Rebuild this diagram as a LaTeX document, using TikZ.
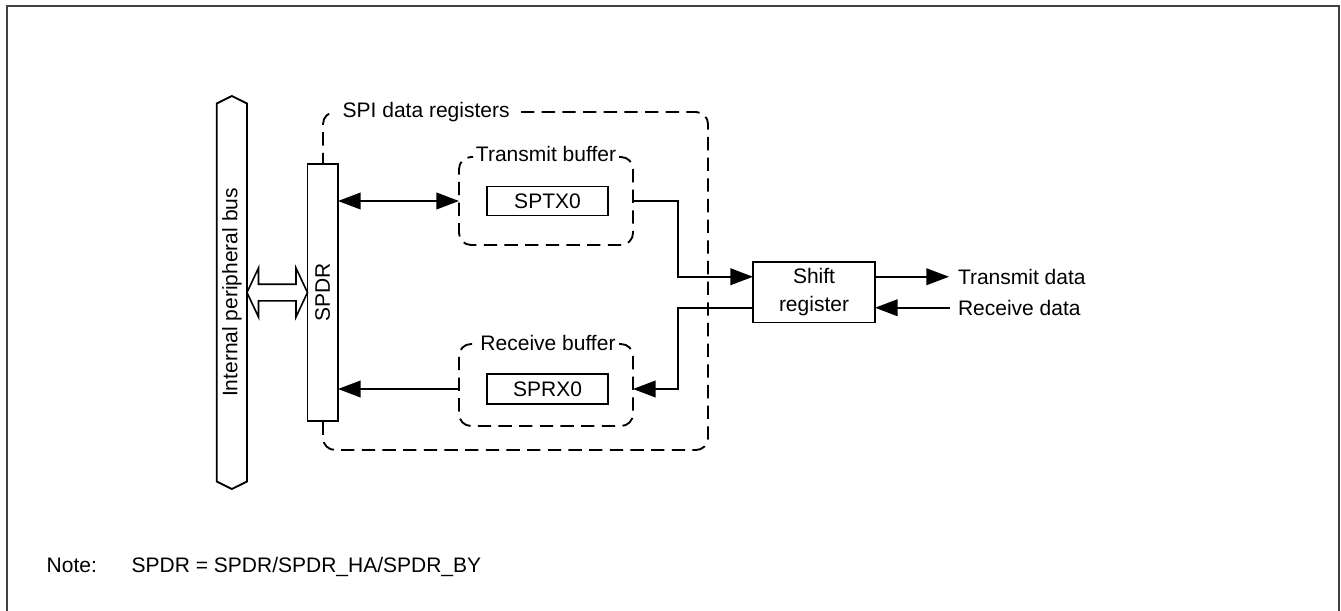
\documentclass[tikz,border=0pt]{standalone}
\usepackage{fontspec}
\setmainfont{Liberation Sans}
\usetikzlibrary{arrows.meta,calc}
\newcommand{\fsz}{\fontsize{15.75pt}{20.8pt}\selectfont}
\begin{document}
\begin{tikzpicture}[x=0.75pt,y=-0.75pt,
  every node/.style={font=\fsz, inner sep=0pt, outer sep=0pt},
  ln/.style={line width=1.4pt, black},
  box/.style={draw, line width=1.4pt, fill=white},
  ghost/.style={draw=none},
  dsh/.style={line width=1.4pt, dash pattern=on 10pt off 5.5pt, rounded corners=9pt},
  arr/.style={line width=1.4pt, -{Triangle[length=17pt,width=12.5pt]}},
  darr/.style={line width=1.4pt, {Triangle[length=17pt,width=12.5pt]}-{Triangle[length=17pt,width=12.5pt]}},
  lbl/.style={anchor=base west}
]
\useasboundingbox (0,0) rectangle (1341,610);
% frame
\draw[line width=1.5pt, black!75] (6.5,612) -- (6.5,6.5) -- (1338.5,6.5) -- (1338.5,612);

% outer dashed region
\node[ghost, minimum width=288.75pt, minimum height=253.5pt] (ob) at (515.5,281) {};
\draw[ln, dsh] ($(ob.north west)+(198,0)$) -- (ob.north east) -- (ob.south east) -- (ob.south west) -- (ob.north west) -- ($(ob.north west)+(13,0)$);
\node[lbl] (obl) at ($(ob.north west)+(19.7,5.5)$) {SPI data registers};

% bus
\node[ghost, minimum width=22.7pt, minimum height=294.75pt] (bus) at (231.85,292.5) {};
\draw[ln] (bus.north) -- ($(bus.north east)+(0,7.5)$) -- ($(bus.south east)+(0,-7.5)$) -- (bus.south) -- ($(bus.south west)+(0,-7.5)$) -- ($(bus.north west)+(0,7.5)$) -- cycle;
\node[rotate=90] (busl) at (bus.center) {Internal peripheral bus};

% SPDR
\node[box, minimum width=22.9pt, minimum height=192.75pt] (spdr) at (322.75,292.5) {};
\node[rotate=90] (spdrl) at (spdr.center) {SPDR};

% hollow double arrow
\draw[line width=1.2pt, line join=miter] (bus.east) -- ++(11.5,-24.5) -- ++(0,16.2) -- ($(spdr.west)+(-11.5,-8.3)$) -- ++(0,-16.2) -- (spdr.west) -- ++(-11.5,24.5) -- ++(0,-16.2) -- ($(bus.east)+(11.5,8.3)$) -- ++(0,16.2) -- cycle;

% transmit buffer
\node[ghost, minimum width=130.5pt, minimum height=66pt] (tb) at (546,201) {};
\draw[ln, dsh] ($(tb.north east)+(-14,0)$) -- (tb.north east) -- (tb.south east) -- (tb.south west) -- (tb.north west) -- ($(tb.north west)+(14,0)$);
\node[anchor=base] (tbl) at ($(tb.north)+(0,4.5)$) {Transmit buffer};
\node[box, minimum width=91.2pt, minimum height=21.75pt] (sptx) at (547.5,201) {SPTX0};

% receive buffer
\node[ghost, minimum width=130.5pt, minimum height=61.5pt] (rb) at (546,385) {};
\draw[ln, dsh] ($(rb.north east)+(-14,0)$) -- (rb.north east) -- (rb.south east) -- (rb.south west) -- (rb.north west) -- ($(rb.north west)+(14,0)$);
\node[anchor=base] (rbl) at ($(rb.north)+(2,6)$) {Receive buffer};
\node[box, minimum width=91.2pt, minimum height=22.5pt] (sprx) at (547.5,389) {SPRX0};

% shift register
\node[box, minimum width=91.5pt, minimum height=45.4pt, align=center] (shift) at (814,292.25) {Shift\\register};
\coordinate (tin) at ($(shift.west)+(0,-15.5)$);
\coordinate (rout) at ($(shift.west)+(0,15.5)$);
\coordinate (j1) at (678,0);
\coordinate (txd) at (949,276.75);
\coordinate (rxd) at (950,307.75);

% connectors
\draw[darr] (spdr.east |- sptx) -- (tb.west |- sptx);
\draw[arr] (rb.west |- sprx) -- (spdr.east |- sprx);
\draw[arr] (tb.east |- sptx) -| (j1 |- tin) -- (tin);
\draw[arr] (rout) -| (j1 |- sprx) -- (rb.east |- sprx);
\draw[arr] (shift.east |- tin) -- (txd);
\draw[arr] (rxd) -- (shift.east |- rout);
\node[lbl] (txl) at (958,284.25) {Transmit data};
\node[lbl] (rxl) at (958,315.25) {Receive data};

% note
\node[lbl] (note) at (46.7,572.5) {Note:};
\node[lbl] (notet) at (131.7,572.5) {SPDR = SPDR/SPDR\_HA/SPDR\_BY};
\end{tikzpicture}
\end{document}
